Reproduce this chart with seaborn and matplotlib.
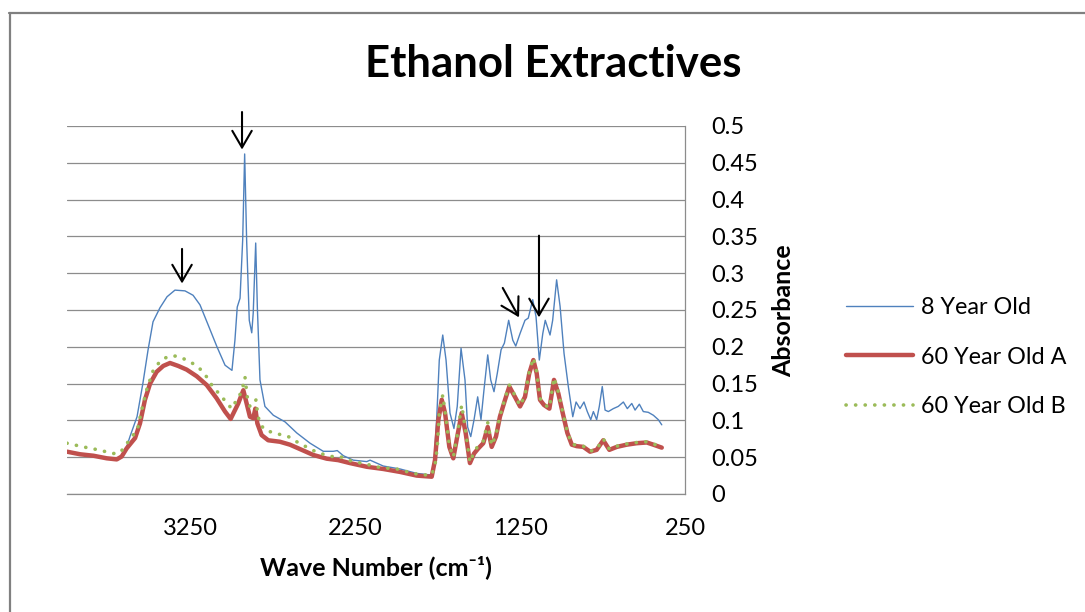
import matplotlib
matplotlib.use("Agg")
import matplotlib.pyplot as plt
from matplotlib.lines import Line2D
import seaborn as sns

# FTIR absorbance spectra of ethanol extractives (wavenumber in cm^-1)
wn_8yr = [4000, 3921, 3840, 3759, 3698, 3668, 3638, 3618, 3575, 3539, 3508, 3478, 3436, 3393,
          3345, 3284, 3235, 3193, 3144, 3090, 3041, 2999, 2981, 2967, 2950, 2934, 2922, 2910,
          2894, 2879, 2870, 2855, 2845, 2829, 2799, 2748, 2677, 2606, 2525, 2445, 2384, 2360,
          2323, 2263, 2181, 2161, 2081, 1979, 1878, 1797, 1777, 1757, 1741, 1720, 1700, 1676,
          1652, 1632, 1609, 1585, 1569, 1550, 1530, 1508, 1488, 1470, 1447, 1429, 1409, 1389,
          1366, 1346, 1320, 1295, 1277, 1251, 1221, 1201, 1174, 1154, 1134, 1113, 1098, 1069,
          1053, 1029, 1008, 984, 958, 931, 911, 887, 863, 843, 822, 806, 786, 770, 752, 735,
          715, 685, 655, 624, 600, 573, 553, 527, 503, 473, 442, 412, 391]
abs_8yr = [0.058, 0.055, 0.052, 0.049, 0.048, 0.052, 0.064, 0.078, 0.105, 0.151, 0.196, 0.234,
           0.253, 0.268, 0.277, 0.276, 0.270, 0.257, 0.230, 0.200, 0.175, 0.168, 0.209, 0.254,
           0.266, 0.345, 0.462, 0.345, 0.236, 0.219, 0.246, 0.341, 0.254, 0.155, 0.119, 0.107,
           0.098, 0.083, 0.069, 0.058, 0.058, 0.059, 0.052, 0.046, 0.044, 0.046, 0.038, 0.034,
           0.028, 0.026, 0.028, 0.101, 0.182, 0.216, 0.182, 0.110, 0.089, 0.119, 0.198, 0.155,
           0.091, 0.078, 0.101, 0.132, 0.101, 0.141, 0.189, 0.155, 0.139, 0.164, 0.196, 0.205,
           0.236, 0.209, 0.201, 0.218, 0.236, 0.239, 0.264, 0.241, 0.182, 0.218, 0.236, 0.216,
           0.236, 0.291, 0.255, 0.191, 0.146, 0.105, 0.125, 0.116, 0.125, 0.112, 0.101, 0.112,
           0.101, 0.119, 0.146, 0.114, 0.112, 0.116, 0.119, 0.125, 0.116, 0.123, 0.114, 0.122,
           0.112, 0.111, 0.107, 0.101, 0.094]

wn_60a = [4000, 3921, 3840, 3759, 3698, 3668, 3638, 3587, 3557, 3527, 3496, 3456, 3416, 3375,
          3325, 3274, 3213, 3152, 3092, 3041, 3007, 2961, 2930, 2910, 2890, 2870, 2857, 2845,
          2819, 2779, 2708, 2647, 2586, 2505, 2424, 2354, 2283, 2181, 2081, 1979, 1878, 1787,
          1767, 1747, 1726, 1706, 1680, 1656, 1632, 1605, 1581, 1555, 1530, 1504, 1474, 1447,
          1423, 1397, 1373, 1342, 1316, 1282, 1251, 1221, 1195, 1170, 1150, 1130, 1106, 1073,
          1045, 1019, 992, 964, 937, 907, 867, 826, 786, 746, 709, 664, 604, 543, 482, 442, 391]
abs_60a = [0.0575, 0.054, 0.052, 0.0485, 0.047, 0.051, 0.062, 0.076, 0.096, 0.128, 0.150, 0.166,
           0.174, 0.178, 0.174, 0.169, 0.160, 0.148, 0.130, 0.112, 0.102, 0.123, 0.141, 0.123,
           0.105, 0.103, 0.116, 0.096, 0.080, 0.073, 0.071, 0.067, 0.061, 0.053, 0.048, 0.046,
           0.042, 0.037, 0.034, 0.030, 0.025, 0.0235, 0.046, 0.100, 0.128, 0.110, 0.064, 0.0485,
           0.078, 0.110, 0.083, 0.042, 0.055, 0.062, 0.069, 0.091, 0.064, 0.078, 0.105, 0.128,
           0.146, 0.132, 0.119, 0.132, 0.164, 0.182, 0.164, 0.128, 0.121, 0.116, 0.155, 0.137,
           0.110, 0.083, 0.067, 0.065, 0.064, 0.0575, 0.060, 0.073, 0.060, 0.064, 0.067, 0.069,
           0.070, 0.067, 0.063]

wn_60b = [4000, 3901, 3810, 3719, 3678, 3648, 3613, 3573, 3547, 3516, 3476, 3436, 3391, 3339,
          3284, 3234, 3193, 3152, 3116, 3076, 3031, 3001, 2970, 2940, 2920, 2906, 2890, 2870,
          2853, 2845, 2833, 2805, 2748, 2718, 2657, 2606, 2556, 2505, 2445, 2394, 2343, 2293,
          2242, 2192, 2101, 1999, 1899, 1838, 1787, 1767, 1753, 1741, 1720, 1706, 1680, 1656,
          1632, 1605, 1581, 1555, 1530, 1504, 1474, 1447, 1423, 1397, 1373, 1342, 1316, 1282,
          1251, 1221, 1195, 1170, 1150, 1130, 1106, 1073, 1045, 1019, 992, 964, 937, 907, 867,
          826, 786, 746, 709, 664, 604, 543, 482, 442, 391]
abs_60b = [0.069, 0.064, 0.060, 0.055, 0.056, 0.065, 0.076, 0.087, 0.114, 0.142, 0.1685, 0.180,
           0.1865, 0.1875, 0.183, 0.177, 0.170, 0.159, 0.146, 0.136, 0.124, 0.116, 0.128, 0.139,
           0.159, 0.132, 0.119, 0.121, 0.128, 0.112, 0.098, 0.088, 0.083, 0.0815, 0.078, 0.071,
           0.065, 0.059, 0.054, 0.051, 0.051, 0.046, 0.043, 0.041, 0.036, 0.034, 0.028, 0.026,
           0.026, 0.039, 0.064, 0.110, 0.1345, 0.112, 0.066, 0.050, 0.080, 0.121, 0.085, 0.043,
           0.057, 0.066, 0.072, 0.097, 0.066, 0.080, 0.106, 0.130, 0.148, 0.134, 0.120, 0.134,
           0.166, 0.185, 0.166, 0.130, 0.122, 0.117, 0.158, 0.139, 0.111, 0.084, 0.068, 0.066,
           0.065, 0.058, 0.061, 0.075, 0.061, 0.065, 0.068, 0.070, 0.071, 0.068, 0.064]

series_labels = ["8 Year Old", "60 Year Old A", "60 Year Old B"]
x_ticks = [3250, 2250, 1250, 250]
y_ticks = [0, 0.05, 0.1, 0.15, 0.2, 0.25, 0.3, 0.35, 0.4, 0.45, 0.5]

# Peak markers: (tail wavenumber, tail absorbance, tip wavenumber, tip absorbance)
arrow_tails = [(3302, 0.333), (2938, 0.519), (1356, 0.280), (1136, 0.351)]
arrow_tips = [(3302, 0.286), (2938, 0.468), (1257, 0.240), (1136, 0.240)]

sns.set_theme(style="white")
FONT = ["Lato", "DejaVu Sans"]
plt.rcParams["font.family"] = FONT
plt.rcParams["text.color"] = "black"
plt.rcParams["axes.labelcolor"] = "black"
plt.rcParams["xtick.color"] = "black"
plt.rcParams["ytick.color"] = "black"

BLUE, RED, GREEN = "#4F81BD", "#C0504D", "#9BBB59"
GRID = "#8c8c8c"
TICK_SIZE = 17
LEGEND_SIZE = 16.8
LABEL_SIZE = 18

fig = plt.figure(figsize=(10.85, 6.12), dpi=100)
fig.patch.set_facecolor("white")
ax = fig.add_axes([67 / 1085, 1 - 494 / 612, 618 / 1085, 368 / 612])

sns.lineplot(x=wn_8yr, y=abs_8yr, ax=ax, color=BLUE, linewidth=1.0, estimator=None,
             sort=False, label=series_labels[0], zorder=3)
sns.lineplot(x=wn_60a, y=abs_60a, ax=ax, color=RED, linewidth=3.2, estimator=None,
             sort=False, label=series_labels[1], zorder=4,
             solid_joinstyle="round", solid_capstyle="round")
sns.lineplot(x=wn_60b, y=abs_60b, ax=ax, color=GREEN, linewidth=2.6, estimator=None,
             sort=False, label=series_labels[2], zorder=5,
             linestyle=(0, (0.05, 2.6)), dash_capstyle="round")

ax.set_xlim(4000, 250)
ax.set_ylim(0, 0.5)
ax.set_xticks(x_ticks)
ax.set_xticklabels([str(v) for v in x_ticks])
ax.set_yticks(y_ticks)
ax.set_yticklabels([f"{v:g}" for v in y_ticks])

ax.yaxis.tick_right()
ax.tick_params(axis="y", length=0, pad=19, labelsize=TICK_SIZE, labelcolor="black")
ax.tick_params(axis="x", length=0, pad=17, labelsize=TICK_SIZE, labelcolor="black")

ax.grid(axis="y", color=GRID, linewidth=0.9, zorder=0)
ax.grid(axis="x", visible=False)
for side in ("left", "top"):
    ax.spines[side].set_visible(False)
for side in ("right", "bottom"):
    ax.spines[side].set_color(GRID)
    ax.spines[side].set_linewidth(0.9)

ax.set_xlabel("Wave Number (cm\u207b\u00b9)", fontsize=LABEL_SIZE, fontweight="bold",
              labelpad=12, family=FONT, color="black")
ax.set_ylabel("")

for (tx, ty), (hx, hy) in zip(arrow_tails, arrow_tips):
    ax.annotate("", xy=(hx, hy), xytext=(tx, ty), annotation_clip=False,
                arrowprops=dict(arrowstyle="->,head_length=1.2,head_width=0.7",
                                mutation_scale=10, color="black", lw=1.5,
                                shrinkA=0, shrinkB=0), zorder=6)

fig.text(553 / 1085, 1 - 64 / 612, "Ethanol Extractives", ha="center", va="center",
         fontsize=31.5, fontweight="bold", family=FONT, color="black")
fig.text(784 / 1085, 1 - 311 / 612, "Absorbance", ha="center", va="center",
         rotation=90, fontsize=LABEL_SIZE, fontweight="bold", family=FONT, color="black")

leg = ax.legend(loc="center left", bbox_to_anchor=(846 / 1085, 1 - 357 / 612),
                bbox_transform=fig.transFigure, frameon=False, fontsize=LEGEND_SIZE,
                handlelength=2.85, handletextpad=0.38, labelspacing=1.22, borderpad=0,
                borderaxespad=0)
for txt in leg.get_texts():
    txt.set_color("black")

# Chart frame (top and left edges)
fig.add_artist(Line2D([9.5 / 1085, 9.5 / 1085], [0, 1 - 12.5 / 612], color="#808080",
                      linewidth=1.6, transform=fig.transFigure))
fig.add_artist(Line2D([9 / 1085, 1], [1 - 13 / 612, 1 - 13 / 612], color="#808080",
                      linewidth=1.6, transform=fig.transFigure))

fig.savefig("out.png", dpi=100, facecolor="white")
